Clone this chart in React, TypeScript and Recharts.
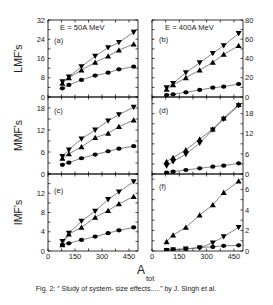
import React from 'react';
import { LineChart, Line, XAxis, YAxis } from 'recharts';

// System masses (A_tot)
const aTot = [80, 116, 186, 262, 334, 394, 476];

// (a) LMF's, E = 50A MeV
const lmf50Down = [6.4, 8.4, 12.6, 17.0, 20.5, 22.7, 26.9];
const lmf50Up = [5.7, 8.0, 11.2, 14.4, 17.0, 19.5, 22.0];
const lmf50Circ = [3.6, 5.0, 7.1, 8.9, 10.1, 11.5, 12.6];
// (b) LMF's, E = 400A MeV
const lmf400Down = [9.7, 14.2, 25.3, 35.6, 45.4, 53.3, 66.0];
const lmf400Up = [8.0, 12.5, 20.0, 28.0, 36.0, 44.3, 53.3];
const lmf400Circ = [2.0, 2.8, 4.9, 7.3, 9.7, 10.7, 13.5];
// (c) MMF's, E = 50A MeV
const mmf50Down = [4.8, 6.6, 9.6, 12.0, 14.5, 16.2, 18.2];
const mmf50Up = [4.3, 5.5, 7.4, 9.9, 11.1, 12.9, 14.7];
const mmf50Circ = [2.5, 3.1, 4.3, 5.3, 6.2, 6.9, 7.6];
// (d) MMF's, E = 400A MeV
const mmf400Down = [2.4, 3.7, 5.9, 9.2, 13.2, 16.4, 20.4];
const mmf400Up = [3.7, 4.9, 7.2, 10.4, 13.4, 16.7, 20.7];
const mmf400Circ = [0.4, 0.7, 1.2, 1.7, 2.2, 2.5, 3.2];
// (e) IMF's, E = 50A MeV
const imf50Down = [2.0, 3.7, 6.2, 8.3, 10.7, 12.3, 14.4];
const imf50Up = [1.3, 3.5, 4.9, 7.0, 8.4, 9.8, 11.3];
const imf50Circ = [1.3, 1.6, 2.3, 3.0, 3.7, 4.3, 4.9];
// (f) IMF's, E = 400A MeV
const imf400Down = [0.05, 0.1, 0.2, 0.3, 0.8, 1.4, 2.3];
const imf400Up = [0.9, 1.55, 2.3, 3.5, 4.5, 5.7, 6.8];
const imf400Circ = [0.1, 0.15, 0.2, 0.35, 0.4, 0.5, 0.55];

// Axes
const xDomain = [0, 500];
const xTicks = [0, 75, 150, 225, 300, 375, 450];
const xLabels = [0, 150, 300, 450];

const ticksA = [0, 4, 8, 12, 16, 20, 24, 28, 32];
const labelsA = [0, 8, 16, 24, 32];
const ticksB = [0, 10, 20, 30, 40, 50, 60, 70, 80];
const labelsB = [0, 20, 40, 60, 80];
const ticksC = [0, 3, 6, 9, 12, 15, 18, 21];
const labelsC = [0, 6, 12, 18];
const ticksD = [0, 3, 6, 9, 12, 15, 18, 21];
const labelsD = [0, 6, 12, 18];
const ticksE = [0, 2, 4, 6, 8, 10, 12, 14, 16];
const labelsE = [0, 4, 8, 12];
const ticksF = [0, 1, 2, 3, 4, 5, 6, 7];
const labelsF = [0, 2, 4, 6];

const FONT = 'Liberation Sans, Arial, Helvetica, sans-serif';
const AXW = 30;
const TOPH = 5;
const BOTH = 20;
const PLOT_H = 77;

const DownTri = (p: any) => {
  const { cx, cy } = p;
  if (cx == null || cy == null) return <g />;
  return <polygon points={`${cx - 3},${cy - 2.4} ${cx + 3},${cy - 2.4} ${cx},${cy + 2.9}`} fill="#000" />;
};
const UpTri = (p: any) => {
  const { cx, cy } = p;
  if (cx == null || cy == null) return <g />;
  return <polygon points={`${cx - 3},${cy + 2.4} ${cx + 3},${cy + 2.4} ${cx},${cy - 2.9}`} fill="#000" />;
};
const Circ = (p: any) => {
  const { cx, cy } = p;
  if (cx == null || cy == null) return <g />;
  return <ellipse cx={cx} cy={cy} rx={2.6} ry={2.1} fill="#000" />;
};

type PanelProps = {
  plotLeft: number;
  plotTop: number;
  plotW: number;
  down: number[];
  up: number[];
  circ: number[];
  yDomain: number[];
  yTicks: number[];
  yLabels: number[];
  labelSide: 'left' | 'right';
  showX: boolean;
};

const axisLine = { stroke: '#000', strokeWidth: 0.8 };
const tickLine = { stroke: '#000', strokeWidth: 0.7 };
const tickStyle = { fontSize: 7.5, fill: '#222', fontFamily: FONT };

function Panel({ plotLeft, plotTop, plotW, down, up, circ, yDomain, yTicks, yLabels, labelSide, showX }: PanelProps) {
  const data = aTot.map((a, i) => ({ a, down: down[i], up: up[i], circ: circ[i] }));
  const W = AXW + plotW + AXW;
  const H = TOPH + PLOT_H + BOTH;
  const yFmt = (show: boolean) => (v: number) => (show && yLabels.includes(v) ? String(v) : '');
  const xFmt = (v: number) => (showX && xLabels.includes(v) ? String(v) : '');
  return (
    <div style={{ position: 'absolute', left: plotLeft - AXW, top: plotTop - TOPH, width: W, height: H }}>
      <LineChart width={W} height={H} data={data} margin={{ top: 0, right: 0, bottom: 0, left: 0 }}>
        <XAxis
          xAxisId="b"
          orientation="bottom"
          type="number"
          dataKey="a"
          domain={xDomain}
          ticks={xTicks}
          interval={0}
          height={BOTH}
          tickSize={-2.5}
          tickMargin={5}
          tickFormatter={xFmt}
          axisLine={axisLine}
          tickLine={tickLine}
          tick={tickStyle}
          allowDataOverflow
        />
        <XAxis
          xAxisId="t"
          orientation="top"
          type="number"
          dataKey="a"
          domain={xDomain}
          ticks={xTicks}
          interval={0}
          height={TOPH}
          tickSize={-2.5}
          tickMargin={4}
          tickFormatter={() => ''}
          axisLine={axisLine}
          tickLine={tickLine}
          tick={tickStyle}
          allowDataOverflow
        />
        <YAxis
          yAxisId="l"
          orientation="left"
          type="number"
          domain={yDomain}
          ticks={yTicks}
          interval={0}
          width={AXW}
          tickSize={-2.5}
          tickMargin={5.5}
          tickFormatter={yFmt(labelSide === 'left')}
          axisLine={axisLine}
          tickLine={tickLine}
          tick={tickStyle}
          allowDataOverflow
        />
        <YAxis
          yAxisId="r"
          orientation="right"
          type="number"
          domain={yDomain}
          ticks={yTicks}
          interval={0}
          width={AXW}
          tickSize={-2.5}
          tickMargin={4.5}
          tickFormatter={yFmt(labelSide === 'right')}
          axisLine={axisLine}
          tickLine={tickLine}
          tick={tickStyle}
          allowDataOverflow
        />
        <Line xAxisId="b" yAxisId="l" type="linear" dataKey="circ" stroke="#666" strokeWidth={0.8} dot={<Circ />} activeDot={false} isAnimationActive={false} />
        <Line xAxisId="b" yAxisId="l" type="linear" dataKey="up" stroke="#666" strokeWidth={0.8} dot={<UpTri />} activeDot={false} isAnimationActive={false} />
        <Line xAxisId="b" yAxisId="l" type="linear" dataKey="down" stroke="#666" strokeWidth={0.8} dot={<DownTri />} activeDot={false} isAnimationActive={false} />
      </LineChart>
    </div>
  );
}

const LEFT_X = 48;
const RIGHT_X = 152;
const LEFT_W = 90;
const RIGHT_W = 91;
const ROW_TOPS = [20, 97, 174];

export default function App() {
  const txt = { fontFamily: FONT, fill: '#222' } as const;
  return (
    <div style={{ position: 'absolute', left: 0, top: 0, width: 273, height: 305, background: '#fff', overflow: 'hidden' }}>
      <Panel plotLeft={LEFT_X} plotTop={ROW_TOPS[0]} plotW={LEFT_W} down={lmf50Down} up={lmf50Up} circ={lmf50Circ} yDomain={[0, 32]} yTicks={ticksA} yLabels={labelsA} labelSide="left" showX={false} />
      <Panel plotLeft={RIGHT_X} plotTop={ROW_TOPS[0]} plotW={RIGHT_W} down={lmf400Down} up={lmf400Up} circ={lmf400Circ} yDomain={[0, 80]} yTicks={ticksB} yLabels={labelsB} labelSide="right" showX={false} />
      <Panel plotLeft={LEFT_X} plotTop={ROW_TOPS[1]} plotW={LEFT_W} down={mmf50Down} up={mmf50Up} circ={mmf50Circ} yDomain={[0, 21]} yTicks={ticksC} yLabels={labelsC} labelSide="left" showX={false} />
      <Panel plotLeft={RIGHT_X} plotTop={ROW_TOPS[1]} plotW={RIGHT_W} down={mmf400Down} up={mmf400Up} circ={mmf400Circ} yDomain={[0, 23]} yTicks={ticksD} yLabels={labelsD} labelSide="right" showX={false} />
      <Panel plotLeft={LEFT_X} plotTop={ROW_TOPS[2]} plotW={LEFT_W} down={imf50Down} up={imf50Up} circ={imf50Circ} yDomain={[0, 16]} yTicks={ticksE} yLabels={labelsE} labelSide="left" showX={true} />
      <Panel plotLeft={RIGHT_X} plotTop={ROW_TOPS[2]} plotW={RIGHT_W} down={imf400Down} up={imf400Up} circ={imf400Circ} yDomain={[0, 7.5]} yTicks={ticksF} yLabels={labelsF} labelSide="right" showX={true} />
      <svg width={273} height={305} style={{ position: 'absolute', left: 0, top: 0, pointerEvents: 'none' }}>
        <text x={60} y={30} fontSize={7.6} {...txt}>E = 50A MeV</text>
        <text x={165} y={30} fontSize={7.6} {...txt}>E = 400A MeV</text>
        <text x={54} y={43} fontSize={7.5} {...txt}>(a)</text>
        <text x={159} y={42} fontSize={7.5} {...txt}>(b)</text>
        <text x={54} y={113} fontSize={7.5} {...txt}>(c)</text>
        <text x={159} y={113} fontSize={7.5} {...txt}>(d)</text>
        <text x={54} y={193} fontSize={7.5} {...txt}>(e)</text>
        <text x={159} y={189} fontSize={7.5} {...txt}>(f)</text>
        <text x={22} y={58.5} fontSize={10.5} textAnchor="middle" transform="rotate(-90 22 58.5)" {...txt}>LMF's</text>
        <text x={22} y={135.5} fontSize={10.5} textAnchor="middle" transform="rotate(-90 22 135.5)" {...txt}>MMF's</text>
        <text x={22} y={212.5} fontSize={10.5} textAnchor="middle" transform="rotate(-90 22 212.5)" {...txt}>IMF's</text>
        <text x={137} y={274} fontSize={12} {...txt}>A</text>
        <text x={146} y={281} fontSize={7.5} {...txt}>tot</text>
        <text x={126} y={291} fontSize={7} textAnchor="middle" {...txt}>Fig. 2: “ Study of system- size effects.....” by J. Singh et al.</text>
      </svg>
    </div>
  );
}
